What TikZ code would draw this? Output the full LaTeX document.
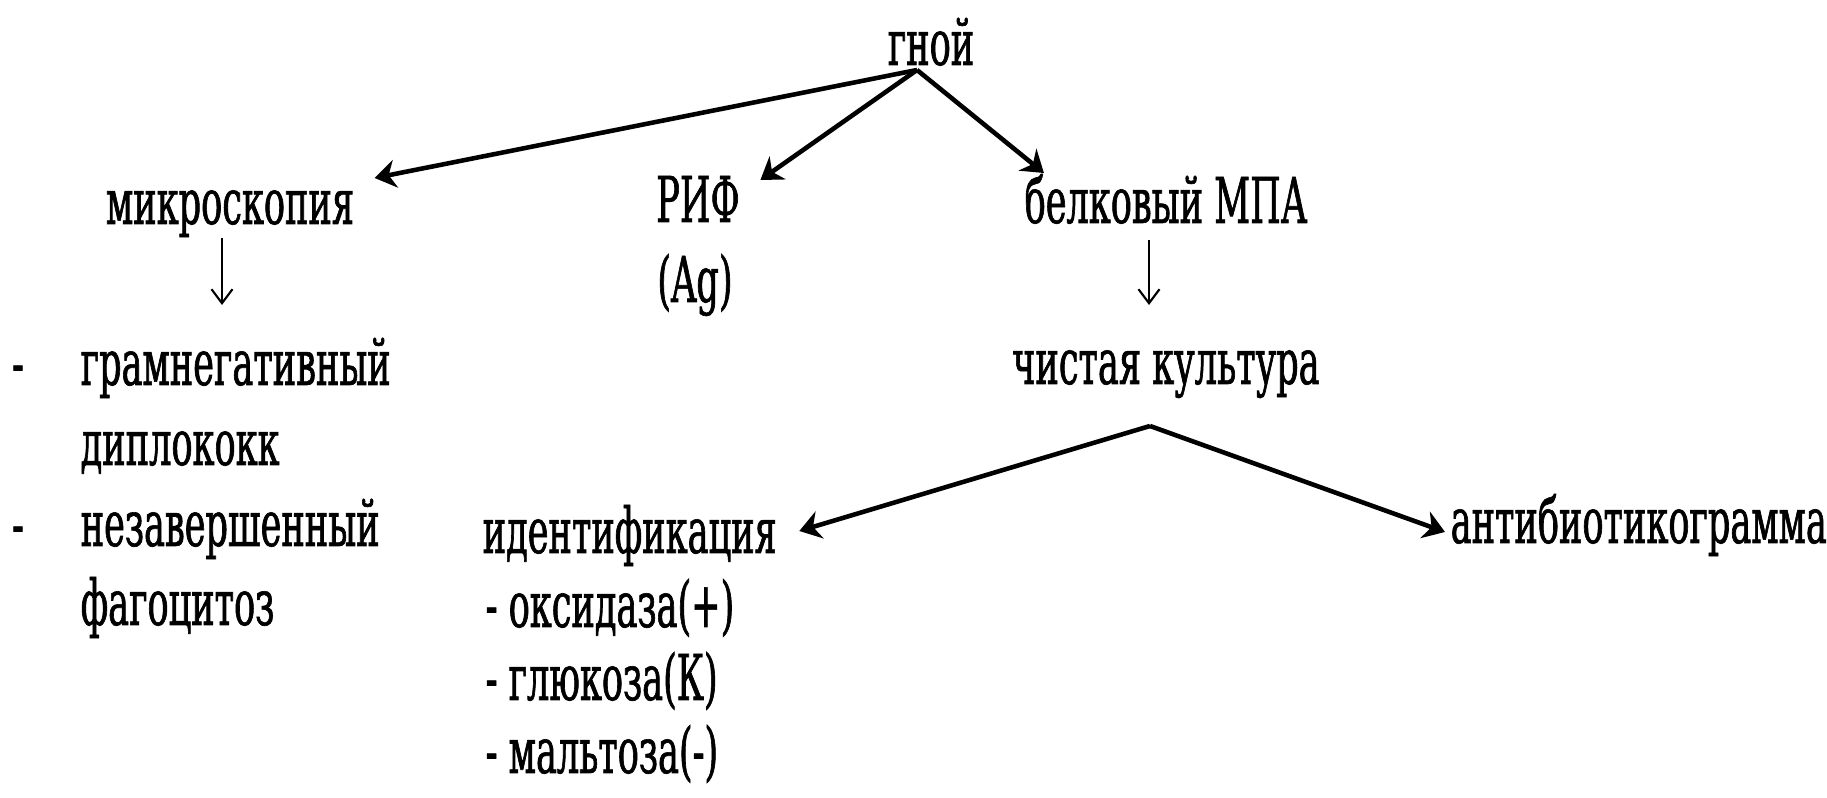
\documentclass[tikz,border=0pt]{standalone}
\usepackage{fontspec}
\setmainfont{DejaVu Serif}[FakeStretch=0.555, FakeBold=1]
\usetikzlibrary{arrows.meta}

\begin{document}
\begin{tikzpicture}[every node/.style={font=\fontsize{18}{20}\selectfont, inner sep=0pt},
  txt/.style={anchor=base},
  lst/.style={anchor=base west},
  arr/.style={line width=1.3pt, -{Stealth[length=6pt,width=8pt]}},
  dn/.style={line width=0.6pt, -{Straight Barb[length=4pt,width=6pt]}}]
\useasboundingbox (0,0) rectangle (18.27,-7.98);
% sample and the three ways
\node[txt] (gnoi) at (9.31,-0.65) {гной};
\node[txt] (mikro) at (2.30,-2.24) {микроскопия};
\node[txt] (rif) at (6.98,-2.22) {РИФ};
\node[txt] (ag) at (6.95,-3.02) {(Ag)};
\node[txt] (belk) at (11.66,-2.23) {белковый МПА};
\node[txt] (chist) at (11.66,-3.84) {чистая культура};
% microscopy findings
\node[txt] (d1) at (0.18,-3.85) {-};
\node[lst] (gram) at (0.80,-3.85) {грамнегативный};
\node[lst] (dipl) at (0.80,-4.65) {диплококк};
\node[txt] (d2) at (0.18,-5.46) {-};
\node[lst] (nezav) at (0.80,-5.46) {незавершенный};
\node[lst] (fago) at (0.80,-6.25) {фагоцитоз};
% culture
\node[lst] (ident) at (4.82,-5.53) {идентификация};
\node[lst] (oks) at (4.85,-6.27) {- оксидаза(+)};
\node[lst] (glu) at (4.85,-7.00) {- глюкоза(К)};
\node[lst] (malt) at (4.85,-7.73) {- мальтоза(-)};
\node[lst] (anti) at (14.50,-5.43) {антибиотикограмма};
\coordinate (top) at ([shift={(-0.14,-0.05)}]gnoi.base);
\coordinate (mid) at ([shift={(-0.16,-0.42)}]chist.base);
\draw[arr] (top) -- ([shift={(0.20,0.46)}]mikro.base east);
\draw[arr] (top) -- ([shift={(0.20,0.42)}]rif.base east);
\draw[arr] (top) -- ([shift={(0.20,0.50)}]belk.base west);
\draw[arr] (mid) -- ([shift={(0.22,0.22)}]ident.base east);
\draw[arr] (mid) -- ([shift={(-0.05,0.11)}]anti.base west);
\draw[dn] ([shift={(-0.08,-0.14)}]mikro.base) -- ([shift={(-0.08,-0.81)}]mikro.base);
\draw[dn] ([shift={(-0.17,-0.17)}]belk.base) -- ([shift={(-0.17,-0.82)}]belk.base);
\end{tikzpicture}
\end{document}
